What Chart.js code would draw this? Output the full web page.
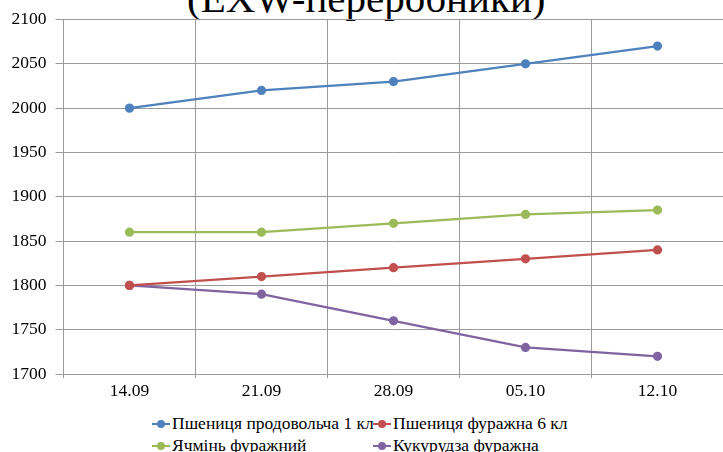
<!DOCTYPE html>
<html>
<head>
<meta charset="utf-8">
<script src="https://cdn.jsdelivr.net/npm/chart.js@4.4.1/dist/chart.umd.min.js"></script>
<style>
  body { margin:0; width:723px; height:452px; overflow:hidden; background:#fff; position:relative; font-family:'Liberation Serif', 'Times New Roman', serif; }
  #title { position:absolute; left:187px; top:-26px; font-size:41px; white-space:nowrap; color:#000; }
  #wrap { position:absolute; left:0; top:0; width:740px; height:406px; }
  #legend { position:absolute; left:152px; top:412px; display:grid; grid-template-columns:221px 220px; font-size:17.5px; line-height:22px; color:#000; }
  .item { white-space:nowrap; }
  .sym { display:inline-block; width:18px; height:2px; position:relative; vertical-align:middle; margin-right:2px; top:-1px; }
  .sym::after { content:''; position:absolute; left:5px; top:-3px; width:8px; height:8px; border-radius:50%; background:inherit; }
</style>
</head>
<body>
<div id="title">(EXW-переробники)</div>
<div id="wrap"><canvas id="myChart"></canvas></div>
<div id="legend"></div>
<script>
const weeks = ['14.09', '21.09', '28.09', '05.10', '12.10'];

const wheatFood = [2000, 2020, 2030, 2050, 2070];
const wheatFeed = [1800, 1810, 1820, 1830, 1840];
const barleyFeed = [1860, 1860, 1870, 1880, 1885];
const cornFeed = [1800, 1790, 1760, 1730, 1720];

const seriesNames = ['Пшениця продовольча 1 кл', 'Пшениця фуражна 6 кл', 'Ячмінь фуражний', 'Кукурудза фуражна'];
const seriesColors = ['#4F81BD', '#C0504D', '#9BBB59', '#8064A2'];
const seriesData = [wheatFood, wheatFeed, barleyFeed, cornFeed];

const serif = "'Liberation Serif', 'Times New Roman', serif";

const myChart = document.getElementById('myChart');

let lineChart = new Chart(myChart, {
  type: 'line',
  data: {
    labels: weeks,
    datasets: seriesData.map((d, i) => ({
      label: seriesNames[i],
      data: d,
      borderColor: seriesColors[i],
      backgroundColor: seriesColors[i],
      borderWidth: 2.25,
      pointRadius: 3.5,
      pointHoverRadius: 3.5,
      tension: 0
    }))
  },
  options: {
    responsive: true,
    maintainAspectRatio: false,
    animation: false,
    layout: { padding: { left: 2.5, right: 16.5, top: 19, bottom: 1 } },
    plugins: {
      legend: { display: false },
      tooltip: { enabled: false }
    },
    scales: {
      x: {
        offset: true,
        grid: { offset: true, color: '#9a9a9a', lineWidth: 1, tickLength: 4 },
        border: { color: '#9a9a9a' },
        ticks: { color: '#000', padding: 3, font: { family: serif, size: 17.5 } }
      },
      y: {
        min: 1700,
        max: 2100,
        grid: { color: '#9a9a9a', lineWidth: 1, tickLength: 8 },
        border: { color: '#9a9a9a' },
        ticks: { stepSize: 50, color: '#000', padding: 9, font: { family: serif, size: 17.5 },
          callback: v => String(v) }
      }
    }
  }
});

// legend laid out like the Excel one (two columns)
const legend = document.getElementById('legend');
lineChart.data.datasets.forEach(ds => {
  const item = document.createElement('div');
  item.className = 'item';
  const sym = document.createElement('span');
  sym.className = 'sym';
  sym.style.background = ds.borderColor;
  item.appendChild(sym);
  item.appendChild(document.createTextNode(ds.label));
  legend.appendChild(item);
});
</script>
</body>
</html>
